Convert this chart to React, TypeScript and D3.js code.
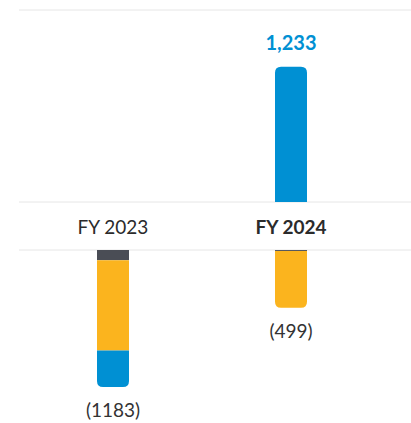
import React, { useEffect, useRef } from 'react';
import * as d3 from 'd3';

const categories = ['FY 2023', 'FY 2024'];
const positiveValues = [0, 1233];
const negDark = [88, 8];
const negYellow = [780, 491];
const negBlue = [315, 0];
const positiveLabels = ['', '1,233'];
const negativeLabels = ['(1183)', '(499)'];

const W = 411, H = 423;
const BLUE = '#0090d3', YELLOW = '#fbb41e', DARK = '#4a4d55', GRID = '#e6e6e6';

// rect path with only the two corners on one side rounded
function barPath(x: number, y0: number, y1: number, w: number, r: number, roundBottom: boolean) {
  const h = Math.abs(y1 - y0);
  r = Math.min(r, h / 2, w / 2);
  if (roundBottom) {
    return `M${x},${y0}H${x + w}V${y1 - r}Q${x + w},${y1} ${x + w - r},${y1}H${x + r}Q${x},${y1} ${x},${y1 - r}Z`;
  }
  return `M${x},${y1}V${y0 + r}Q${x},${y0} ${x + r},${y0}H${x + w - r}Q${x + w},${y0} ${x + w},${y0 + r}V${y1}Z`;
}

export default function App() {
  const ref = useRef<SVGSVGElement>(null);

  useEffect(() => {
    const svg = d3.select(ref.current);
    svg.selectAll('*').remove();

    const x = d3.scaleBand().domain(categories).range([24, 380]);
    const barW = 32;
    const cx = (c: string) => (x(c) as number) + x.bandwidth() / 2;

    const yTop = d3.scaleLinear().domain([0, 1750]).range([202, 10]);
    const yBot = d3.scaleLinear().domain([0, 1450]).range([250, 418]);

    // gridlines
    [yTop(1750), yTop(0), yBot(0)].forEach(y => {
      svg.append('line')
        .attr('x1', 19).attr('x2', W)
        .attr('y1', y).attr('y2', y)
        .attr('stroke', GRID).attr('stroke-width', 1);
    });

    // positive bars
    categories.forEach((c, i) => {
      const v = positiveValues[i];
      if (!v) return;
      svg.append('path')
        .attr('d', barPath(cx(c) - barW / 2, yTop(v), yTop(0), barW, 6, false))
        .attr('fill', BLUE);
      svg.append('text')
        .attr('x', cx(c)).attr('y', yTop(v) - 17)
        .attr('text-anchor', 'middle')
        .attr('font-family', 'Lato, sans-serif')
        .attr('font-weight', 700).attr('font-size', 20)
        .attr('fill', BLUE)
        .text(positiveLabels[i]);
    });

    // negative stacked bars
    categories.forEach((c, i) => {
      const segs = [
        { v: negDark[i], color: DARK },
        { v: negYellow[i], color: YELLOW },
        { v: negBlue[i], color: BLUE },
      ].filter(s => s.v > 0);
      let acc = 0;
      segs.forEach((s, j) => {
        const y0 = yBot(acc), y1 = yBot(acc + s.v);
        const last = j === segs.length - 1;
        svg.append('path')
          .attr('d', last
            ? barPath(cx(c) - barW / 2, y0, y1, barW, 6, true)
            : `M${cx(c) - barW / 2},${y0}h${barW}V${y1}h${-barW}Z`)
          .attr('fill', s.color);
        acc += s.v;
      });
      svg.append('text')
        .attr('x', cx(c)).attr('y', yBot(acc) + 30)
        .attr('text-anchor', 'middle')
        .attr('font-family', 'Lato, sans-serif')
        .attr('font-size', 19)
        .attr('fill', '#333')
        .text(negativeLabels[i]);
    });

    // category labels
    categories.forEach((c, i) => {
      svg.append('text')
        .attr('x', cx(c)).attr('y', 234)
        .attr('text-anchor', 'middle')
        .attr('font-family', 'Lato, sans-serif')
        .attr('font-size', 19)
        .attr('font-weight', i === 1 ? 700 : 400)
        .attr('fill', '#2b2b2b')
        .text(c);
    });
  }, []);

  return (
    <svg ref={ref} width={W} height={H}
      style={{ position: 'absolute', left: 0, top: 0, background: '#fff' }} />
  );
}
